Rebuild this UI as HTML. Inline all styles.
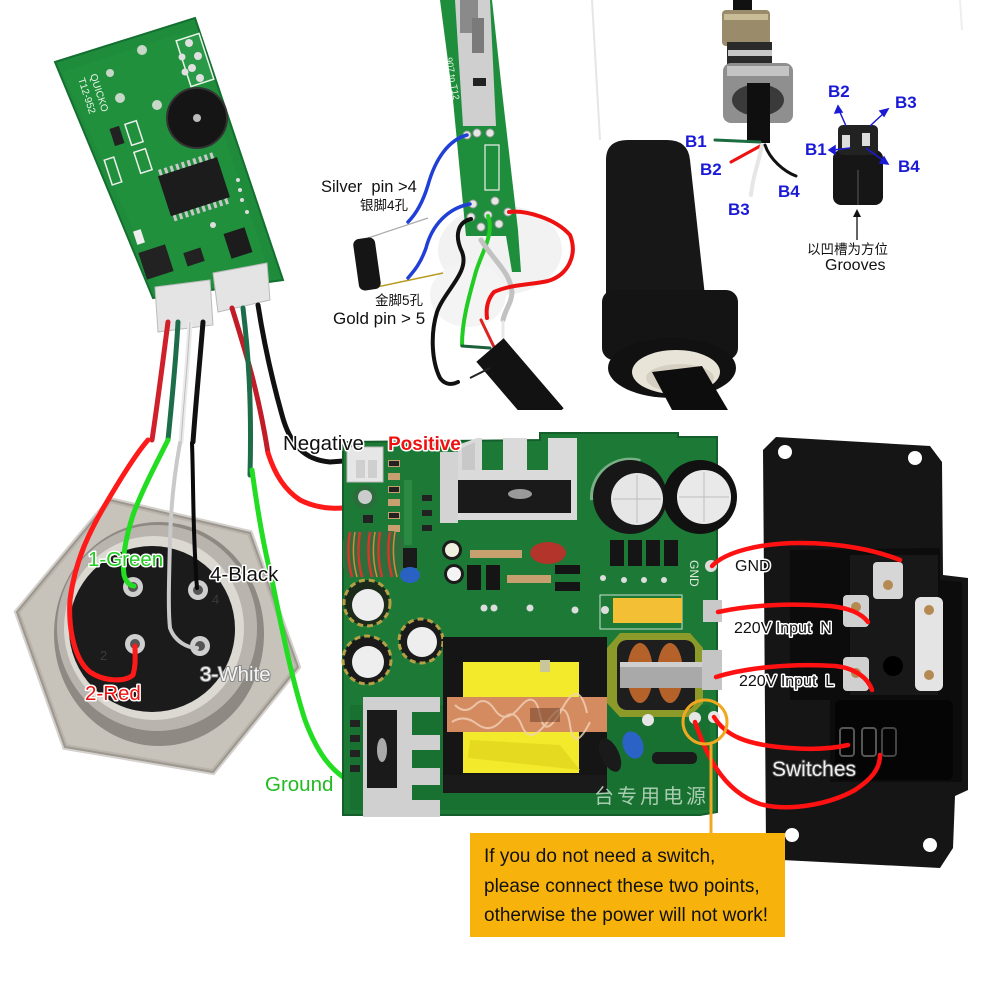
<!DOCTYPE html>
<html><head><meta charset="utf-8">
<style>
html,body{margin:0;padding:0;background:#fff;}
svg{display:block;}
text{font-family:"Liberation Sans","Noto Sans CJK SC",sans-serif;}
.ow{paint-order:stroke;stroke:#fff;stroke-width:3px;stroke-linejoin:round;}
</style></head><body>
<svg width="1000" height="1000" viewBox="0 0 1000 1000" xmlns="http://www.w3.org/2000/svg">
<defs>
  <clipPath id="midclip"><rect x="300" y="0" width="300" height="410"/></clipPath>
</defs>
<rect width="1000" height="1000" fill="#fff"/>

<!-- ============ TOP-LEFT PCB ============ -->
<g>
  <polygon points="55,62 195,18 283,280 153,298" fill="#1f8c3b" stroke="#137030" stroke-width="2"/>
  <polygon points="62,72 190,30 270,275 160,290" fill="#22933f" opacity="0.5"/>
  <rect x="183" y="36" width="24" height="48" fill="#2a9a48" stroke="#e8f5e8" stroke-width="1.5" transform="rotate(-18 195 60)"/>
  <circle cx="189" cy="43" r="4" fill="#e0e0e0"/><circle cx="198" cy="56" r="4" fill="#e0e0e0"/><circle cx="192" cy="68" r="4" fill="#e0e0e0"/><circle cx="200" cy="78" r="4" fill="#e0e0e0"/><circle cx="182" cy="57" r="3.5" fill="#e0e0e0"/><circle cx="185" cy="72" r="3.5" fill="#e0e0e0"/>
  <circle cx="142" cy="50" r="5" fill="#c8d8c8"/>
  <circle cx="110" cy="73" r="4" fill="#c8d8c8"/>
  <circle cx="120" cy="98" r="5" fill="#c8d8c8"/>
  <circle cx="157" cy="105" r="5" fill="#c8d8c8"/>
  <text x="0" y="0" font-size="10" fill="#e8f5e8" transform="translate(90,75) rotate(72)">QUICKO</text>
  <text x="0" y="0" font-size="10" fill="#e8f5e8" transform="translate(78,79) rotate(72)">T12-952</text>
  <circle cx="197" cy="118" r="30" fill="#151515"/>
  <circle cx="197" cy="118" r="30" fill="none" stroke="#333" stroke-width="2"/>
  <circle cx="197" cy="118" r="4" fill="#bbb"/>
  <g transform="rotate(-18 193 187)">
    <rect x="163" y="166" width="62" height="42" fill="#1c1c1c"/>
    <g fill="#c8c8c8">
      <rect x="165" y="160" width="3" height="6"/><rect x="171" y="160" width="3" height="6"/><rect x="177" y="160" width="3" height="6"/><rect x="183" y="160" width="3" height="6"/><rect x="189" y="160" width="3" height="6"/><rect x="195" y="160" width="3" height="6"/><rect x="201" y="160" width="3" height="6"/><rect x="207" y="160" width="3" height="6"/><rect x="213" y="160" width="3" height="6"/><rect x="219" y="160" width="3" height="6"/>
      <rect x="165" y="208" width="3" height="6"/><rect x="171" y="208" width="3" height="6"/><rect x="177" y="208" width="3" height="6"/><rect x="183" y="208" width="3" height="6"/><rect x="189" y="208" width="3" height="6"/><rect x="195" y="208" width="3" height="6"/><rect x="201" y="208" width="3" height="6"/><rect x="207" y="208" width="3" height="6"/><rect x="213" y="208" width="3" height="6"/><rect x="219" y="208" width="3" height="6"/>
    </g>
  </g>
  <rect x="227" y="230" width="22" height="26" fill="#1c1c1c" transform="rotate(-18 238 243)"/>
  <rect x="142" y="248" width="28" height="28" fill="#222" transform="rotate(-18 156 262)"/>
  <rect x="185" y="250" width="18" height="14" fill="#222" transform="rotate(-18 194 257)"/>
  <rect x="112" y="127" width="10" height="18" fill="#222" transform="rotate(-18 117 136)"/>
  <rect x="128" y="122" width="12" height="22" fill="none" stroke="#eee" stroke-width="1.5" transform="rotate(-18 134 133)"/>
  <rect x="137" y="150" width="12" height="22" fill="none" stroke="#eee" stroke-width="1.5" transform="rotate(-18 143 161)"/>
  <rect x="108" y="158" width="10" height="26" fill="none" stroke="#eee" stroke-width="1.5" transform="rotate(-18 113 171)"/>
  <rect x="135" y="230" width="8" height="14" fill="#eee" transform="rotate(-18 139 237)"/>
  <circle cx="213" cy="225" r="3" fill="#ddd"/>
  <circle cx="238" cy="180" r="2" fill="#ddd"/><circle cx="240" cy="190" r="2" fill="#ddd"/><circle cx="242" cy="200" r="2" fill="#ddd"/><circle cx="247" cy="212" r="2" fill="#ddd"/>
  <polygon points="155,287 210,280 213,325 158,332" fill="#e4e4e4" stroke="#bbb"/>
  <polygon points="213,273 267,263 270,300 218,312" fill="#e4e4e4" stroke="#bbb"/>
</g>

<g fill="none" stroke-linecap="round">
  <path d="M168,322 C163,360 158,400 152,440" stroke="#d0202a" stroke-width="5"/>
  <path d="M178,322 C176,360 172,400 168,440" stroke="#1d6d4a" stroke-width="5"/>
  <path d="M190,322 C188,360 184,400 181,442" stroke="#eaeaea" stroke-width="5"/>
  <path d="M190,322 C188,360 184,400 181,442" stroke="#bdbdbd" stroke-width="1"/>
  <path d="M203,322 C200,360 196,400 193,442" stroke="#111" stroke-width="5"/>
  <path d="M232,308 C245,350 258,390 268,453" stroke="#c01d28" stroke-width="5"/>
  <path d="M243,308 C248,350 252,400 250,475" stroke="#1d6d4a" stroke-width="5"/>
  <path d="M258,305 C265,350 275,390 282,415 C290,445 305,460 330,462 L357,460" stroke="#111" stroke-width="5"/>
</g>

<!-- ============ HEX CONNECTOR ============ -->
<g>
  <polygon points="110,500 250,533 298,667 213,772 65,747 17,612" fill="#c8c3ba" stroke="#8f8a82" stroke-width="2"/>
  <polygon points="110,500 250,533 298,667 213,772 65,747 17,612" fill="none" stroke="#a9a49b" stroke-width="6" opacity="0.5"/>
  <ellipse cx="159" cy="634" rx="105" ry="112" fill="#8e8a83"/>
  <ellipse cx="157" cy="628" rx="100" ry="103" fill="#b9b5ae"/>
  <ellipse cx="154" cy="628" rx="90" ry="92" fill="#dcd9d3"/>
  <circle cx="152" cy="629" r="83" fill="#1b1b1b"/>
  <g>
    <circle cx="133" cy="587" r="10" fill="#cfcfcf"/><circle cx="133" cy="587" r="5" fill="#555"/>
    <circle cx="198" cy="590" r="10" fill="#cfcfcf"/><circle cx="198" cy="590" r="5" fill="#555"/>
    <circle cx="135" cy="644" r="10" fill="#cfcfcf"/><circle cx="135" cy="644" r="5" fill="#555"/>
    <circle cx="200" cy="646" r="10" fill="#cfcfcf"/><circle cx="200" cy="646" r="5" fill="#555"/>
  </g>
  <text x="100" y="660" font-size="13" fill="#3a3a3a">2</text>
  <text x="212" y="604" font-size="13" fill="#3a3a3a">4</text>
</g>

<g fill="none" stroke-linecap="round" stroke-linejoin="round">
  <path d="M148,440 C135,455 120,480 108,500 C90,530 75,560 70,600 C68,630 75,660 90,672 C105,682 125,682 133,675 C136,665 135,655 135,646" stroke="#ff1a1a" stroke-width="5"/>
  <path d="M168,440 C158,460 142,490 133,515 C125,540 122,560 124,575 C126,582 130,586 134,586" stroke="#22dd22" stroke-width="5"/>
  <path d="M180,443 C175,470 171,500 170,540 C169,580 168,610 170,628 C175,642 188,648 197,648" stroke="#c9c9c9" stroke-width="4"/>
  <path d="M192,443 C193,470 193,500 194,530 C195,560 196,575 197,588" stroke="#0a0a0a" stroke-width="4"/>
  <path d="M252,470 C256,500 262,540 272,580 C282,630 292,680 305,720 C318,755 332,770 346,779" stroke="#22dd22" stroke-width="5"/>
  <path d="M268,453 C275,475 285,490 300,500 C320,510 350,512 365,500 C376,490 378,470 378,457" stroke="#ff1a1a" stroke-width="5"/>
</g>

<!-- ============ TOP MIDDLE PHOTO ============ -->
<g clip-path="url(#midclip)">
  <ellipse cx="500" cy="250" rx="62" ry="45" fill="#f2f2f2"/>
  <ellipse cx="468" cy="295" rx="38" ry="32" fill="#f4f4f4"/>
  <polygon points="440,0 492,0 503,100 518,230 521,272 512,272 506,236 466,236 453,100" fill="#1f8e3c"/>
  <polygon points="455,0 490,0 496,126 463,126" fill="#cfcfcf"/>
  <rect x="460" y="0" width="18" height="33" fill="#8a8a8a"/>
  <rect x="472" y="18" width="12" height="35" fill="#7a7a7a"/>
  <rect x="473" y="78" width="13" height="8" fill="#222"/>
  <text x="0" y="0" font-size="9" fill="#e9f5e9" transform="translate(446,58) rotate(80)">907 to T12</text>
  <rect x="485" y="145" width="14" height="45" fill="none" stroke="#eee" stroke-width="1.2"/>
  <g fill="#e6e6e6" stroke="#9a9a9a" stroke-width="1">
    <circle cx="467" cy="135" r="4"/><circle cx="477" cy="133" r="4"/><circle cx="490" cy="133" r="4"/>
    <circle cx="473" cy="204" r="4"/><circle cx="495" cy="201" r="4"/><circle cx="508" cy="212" r="4"/>
    <circle cx="471" cy="217" r="4"/><circle cx="488" cy="215" r="4"/><circle cx="481" cy="227" r="4"/><circle cx="499" cy="224" r="4"/>
  </g>
  <path d="M368,238 L428,218" stroke="#aaa" stroke-width="1.2"/>
  <path d="M372,288 L443,273" stroke="#b89a20" stroke-width="1.5"/>
  <rect x="356" y="238" width="22" height="52" rx="6" fill="#151515" transform="rotate(-8 367 264)"/>
  <g fill="none" stroke-linecap="round">
    <path d="M467,135 C448,140 435,160 428,185 C422,205 415,215 408,222" stroke="#1f3fd6" stroke-width="3.5"/>
    <path d="M470,204 C448,208 432,225 426,248 C420,265 413,272 408,278" stroke="#1f3fd6" stroke-width="3.5"/>
    <path d="M471,219 C458,222 454,235 462,252 C470,272 445,290 437,312 C430,335 432,362 440,378 C445,385 452,385 458,382" stroke="#111" stroke-width="4"/>
    <path d="M488,216 C495,235 480,255 475,275 C468,300 462,322 462,345" stroke="#22cc22" stroke-width="4"/>
    <path d="M481,240 C495,262 510,272 512,292 C512,302 505,310 503,320" stroke="#c2c2c2" stroke-width="5"/>
    <path d="M509,212 C525,210 555,218 570,235 C578,255 568,275 548,281 C530,285 512,284 494,292 C487,300 486,310 487,318" stroke="#ee1111" stroke-width="4"/>
    <path d="M462,346 L490,348" stroke="#1d5f3a" stroke-width="3"/>
    <path d="M481,320 L494,347" stroke="#dd2222" stroke-width="3"/>
    <path d="M503,322 L503,345" stroke="#e8e8e8" stroke-width="3"/>
  </g>
  <path d="M490,350 L550,420" stroke="#121212" stroke-width="36" stroke-linecap="butt"/>
  <path d="M470,378 L490,368" stroke="#222" stroke-width="2"/>
</g>
<text x="321" y="192" font-size="16.5" fill="#111">Silver&#160; pin &gt;4</text>
<text x="360" y="210" font-size="13.5" fill="#111">银脚4孔</text>
<text x="375" y="305" font-size="13.5" fill="#111">金脚5孔</text>
<text x="333" y="324" font-size="17" fill="#111">Gold pin &gt; 5</text>

<!-- ============ TOP RIGHT PHOTO ============ -->
<g>
  <line x1="592" y1="0" x2="600" y2="140" stroke="#e6e6e6" stroke-width="2"/>
  <line x1="960" y1="0" x2="962" y2="30" stroke="#eee" stroke-width="2"/>
  <path d="M606,160 Q606,140 628,140 L667,140 Q688,140 690,160 L705,296 L606,296 Z" fill="#171717"/>
  <rect x="602" y="290" width="136" height="70" rx="12" fill="#141414"/>
  <ellipse cx="672" cy="368" rx="64" ry="30" fill="#111"/>
  <ellipse cx="676" cy="372" rx="44" ry="22" fill="#e9e4d8"/>
  <ellipse cx="680" cy="378" rx="34" ry="14" fill="#d6d0c2"/>
  <polygon points="652,372 702,366 728,410 672,410" fill="#0d0d0d"/>
  <rect x="733" y="0" width="19" height="14" fill="#111"/>
  <rect x="722" y="10" width="48" height="36" rx="4" fill="#9a8c6a"/>
  <rect x="724" y="14" width="44" height="6" fill="#c9bd98"/>
  <rect x="727" y="42" width="45" height="24" fill="#2a2a2a"/>
  <rect x="728" y="50" width="44" height="6" fill="#c8c8c8"/>
  <rect x="723" y="63" width="70" height="60" rx="8" fill="#8f8f8f"/>
  <rect x="727" y="66" width="62" height="10" fill="#c4c4c4"/>
  <ellipse cx="758" cy="100" rx="26" ry="16" fill="#3a3a3a"/>
  <rect x="747" y="83" width="23" height="60" fill="#0f0f0f"/>
  <g fill="none" stroke-linecap="round">
    <path d="M715,140 L760,142" stroke="#1d6b40" stroke-width="3"/>
    <path d="M731,162 L762,145" stroke="#ee1111" stroke-width="3"/>
    <path d="M762,145 C758,165 752,180 751,195" stroke="#e6e6e6" stroke-width="4"/>
    <path d="M765,145 C770,160 785,172 796,176" stroke="#111" stroke-width="3"/>
  </g>
  <rect x="833" y="150" width="50" height="55" rx="8" fill="#161616"/>
  <rect x="838" y="125" width="40" height="30" rx="5" fill="#222"/>
  <rect x="842" y="135" width="8" height="13" fill="#ddd"/>
  <rect x="862" y="133" width="8" height="13" fill="#ddd"/>
  <line x1="858" y1="170" x2="858" y2="205" stroke="#444" stroke-width="1.5"/>
  <g stroke="#1a1ad6" stroke-width="1.5" fill="#1a1ad6">
    <line x1="846" y1="126" x2="839" y2="110"/><polygon points="838,106 835,113 842,112"/>
    <line x1="870" y1="126" x2="885" y2="112"/><polygon points="888,109 880,111 884,116"/>
    <line x1="850" y1="148" x2="833" y2="150"/><polygon points="829,150 835,146 835,154"/>
    <line x1="866" y1="148" x2="884" y2="161"/><polygon points="888,164 880,163 884,157"/>
  </g>
  <line x1="857" y1="240" x2="857" y2="214" stroke="#111" stroke-width="1.3"/>
  <polygon points="857,209 853,217 861,217" fill="#111"/>
  <g font-size="17" font-weight="bold" fill="#1a1ad6">
    <text x="685" y="147">B1</text>
    <text x="700" y="175">B2</text>
    <text x="728" y="215">B3</text>
    <text x="778" y="197">B4</text>
    <text x="828" y="97">B2</text>
    <text x="895" y="108">B3</text>
    <text x="805" y="155">B1</text>
    <text x="898" y="172">B4</text>
  </g>
  <text x="807" y="254" font-size="13.5" fill="#111">以凹槽为方位</text>
  <text x="825" y="270" font-size="16" fill="#111">Grooves</text>
</g>

<!-- ============ MAIN PCB ============ -->
<g>
  <path d="M343,442 L540,440 L540,433 L678,433 L678,437 L717,437 L717,812 L700,815 L343,815 Z" fill="#1c7a36"/>
  <path d="M343,442 L540,440 L540,433 L678,433 L678,437 L717,437 L717,812 L700,815 L343,815 Z" fill="none" stroke="#135e2a" stroke-width="2"/>
  <rect x="350" y="705" width="360" height="105" fill="#166b2f" opacity="0.6"/>
  <rect x="347" y="447" width="36" height="35" fill="#e6e6e6" stroke="#bbb"/>
  <rect x="356" y="460" width="9" height="18" fill="#cfcfcf"/><rect x="368" y="460" width="9" height="18" fill="#cfcfcf"/>
  <g fill="#c8a070">
    <rect x="388" y="460" width="12" height="7"/><rect x="388" y="473" width="12" height="7"/><rect x="388" y="486" width="12" height="7"/><rect x="388" y="499" width="12" height="7"/><rect x="388" y="512" width="12" height="7"/><rect x="388" y="525" width="12" height="7"/>
  </g>
  <g fill="#222">
    <rect x="389" y="461" width="10" height="5"/><rect x="389" y="487" width="10" height="5"/><rect x="389" y="513" width="10" height="5"/>
    <rect x="422" y="495" width="10" height="6"/><rect x="422" y="510" width="10" height="6"/><rect x="422" y="525" width="10" height="6"/>
    <rect x="363" y="515" width="10" height="8"/>
  </g>
  <rect x="404" y="480" width="8" height="65" fill="#2a8a44"/>
  <circle cx="365" cy="497" r="12" fill="#2a6d3a"/><circle cx="365" cy="497" r="7" fill="#ccc"/>
  <rect x="440" y="452" width="18" height="71" fill="#d3d3d3"/>
  <polygon points="458,445 477,438 482,438 482,470 503,470 503,438 527,438 527,470 548,470 548,438 577,438 577,520 458,520" fill="#dadada"/>
  <polygon points="462,448 475,442 475,470 462,470" fill="#c8c8c8"/>
  <rect x="458" y="480" width="113" height="33" fill="#1a1a1a"/>
  <ellipse cx="520" cy="494" rx="12" ry="5" fill="#9a9a9a"/>
  <path d="M593,500 A37,37 0 0 1 640,462" fill="none" stroke="#b7d4bc" stroke-width="6" opacity="0.6"/>
  <circle cx="630" cy="497" r="37" fill="#171717"/>
  <circle cx="637" cy="499" r="26" fill="#e6e6e6"/>
  <circle cx="700" cy="497" r="37" fill="#111"/>
  <circle cx="704" cy="497" r="27" fill="#e9e9e9"/>
  <path d="M637,475 L637,523 M613,499 L661,499" stroke="#bdbdbd" stroke-width="1"/>
  <path d="M704,472 L704,522 M679,497 L729,497" stroke="#bdbdbd" stroke-width="1"/>
  <rect x="343" y="531" width="60" height="46" rx="12" fill="#2f6e3c"/>
  <g stroke="#d13a2a" stroke-width="2.5" fill="none">
    <path d="M350,532 Q346,555 352,577"/><path d="M360,532 Q356,555 362,577"/><path d="M370,532 Q366,555 372,577"/><path d="M380,532 Q376,555 382,577"/><path d="M390,532 Q386,555 392,577"/>
  </g>
  <g stroke="#d8893a" stroke-width="1.5" fill="none">
    <path d="M355,532 Q351,555 357,577"/><path d="M375,532 Q371,555 377,577"/><path d="M395,532 Q391,555 397,577"/>
  </g>
  <rect x="403" y="548" width="14" height="20" fill="#1a1a1a"/>
  <ellipse cx="410" cy="575" rx="10" ry="8" fill="#2a62c4"/>
  <circle cx="452" cy="550" r="10" fill="#1c1c1c"/><circle cx="452" cy="550" r="7" fill="#f0f0e0"/>
  <circle cx="454" cy="574" r="10" fill="#1c1c1c"/><circle cx="454" cy="574" r="7" fill="#f4f4f4"/>
  <circle cx="367" cy="603" r="23" fill="#1b2a1b"/><circle cx="367" cy="603" r="23" fill="none" stroke="#b5a045" stroke-width="3" stroke-dasharray="6 4"/><circle cx="368" cy="605" r="16" fill="#eee"/>
  <circle cx="421" cy="641" r="22" fill="#1a1a1a"/><circle cx="421" cy="641" r="22" fill="none" stroke="#b5a045" stroke-width="3" stroke-dasharray="6 4"/><circle cx="422" cy="642" r="15" fill="#eee"/>
  <circle cx="367" cy="660" r="24" fill="#1a1a1a"/><circle cx="367" cy="660" r="24" fill="none" stroke="#b5a045" stroke-width="3" stroke-dasharray="6 4"/><circle cx="368" cy="662" r="16" fill="#eee"/>
  <ellipse cx="548" cy="553" rx="18" ry="11" fill="#b2342a"/>
  <rect x="467" y="565" width="14" height="25" fill="#151515"/>
  <rect x="486" y="565" width="14" height="25" fill="#151515"/>
  <g fill="#c8a070"><rect x="470" y="550" width="52" height="8"/><rect x="507" y="575" width="44" height="8"/></g>
  <rect x="555" y="565" width="25" height="9" fill="#151515"/><rect x="555" y="582" width="25" height="9" fill="#151515"/>
  <rect x="610" y="540" width="14" height="26" fill="#151515"/><rect x="628" y="540" width="14" height="26" fill="#151515"/><rect x="646" y="540" width="14" height="26" fill="#151515"/><rect x="664" y="540" width="14" height="26" fill="#151515"/>
  <circle cx="603" cy="578" r="3" fill="#ddd"/><circle cx="624" cy="580" r="3" fill="#ddd"/><circle cx="644" cy="580" r="3" fill="#ddd"/><circle cx="664" cy="580" r="3" fill="#ddd"/><circle cx="484" cy="608" r="3.5" fill="#ddd"/><circle cx="494" cy="608" r="3.5" fill="#ddd"/><circle cx="530" cy="608" r="3.5" fill="#ddd"/><circle cx="575" cy="610" r="3.5" fill="#ddd"/>
  <rect x="600" y="595" width="82" height="34" fill="none" stroke="#cde0cf" stroke-width="1"/>
  <rect x="613" y="598" width="69" height="25" fill="#f2bf35"/>
  <circle cx="605" cy="610" r="4" fill="#ddd"/>
  <rect x="443" y="637" width="164" height="156" fill="#151515"/>
  <rect x="463" y="662" width="116" height="111" fill="#f4ea2c"/>
  <path d="M468,758 L470,740 L560,745 L580,770 Z" fill="#e6da20"/>
  <rect x="447" y="697" width="160" height="35" fill="#d58b60"/>
  <g stroke="#f1d2b8" stroke-width="2" fill="none" opacity="0.8">
    <path d="M455,705 q10,10 20,0 t20,5 t25,-3 t20,8 t22,-6 t25,4"/>
    <path d="M452,722 q12,-8 25,2 t25,-4 t20,6 t26,-5 t22,4 t20,-3"/>
  </g>
  <rect x="530" y="708" width="30" height="14" fill="#7a4a30" opacity="0.6"/>
  <rect x="443" y="775" width="164" height="18" fill="#1a1a1a"/>
  <rect x="540" y="660" width="10" height="12" fill="#c9c79a"/>
  <path d="M620,633 L690,633 L703,648 L703,703 L690,717 L620,717 L607,703 L607,648 Z" fill="#8c9a2a"/>
  <rect x="617" y="640" width="78" height="70" rx="10" fill="#1e1e1e"/>
  <ellipse cx="640" cy="673" rx="13" ry="30" fill="#b5622a"/>
  <ellipse cx="670" cy="673" rx="13" ry="30" fill="#b5622a"/>
  <rect x="620" y="662" width="90" height="26" fill="#a9a9a9"/>
  <rect x="620" y="662" width="90" height="5" fill="#cfcfcf"/>
  <polygon points="363,697 440,697 440,712 412,712 412,735 440,735 440,750 412,750 412,768 440,768 440,785 412,785 412,800 440,800 440,817 363,817" fill="#d0d0d0"/>
  <rect x="367" y="710" width="30" height="78" fill="#1a1a1a"/>
  <ellipse cx="382" cy="750" rx="5" ry="12" fill="#aaa"/>
  <g fill="#222"><rect x="350" y="720" width="10" height="7"/><rect x="350" y="735" width="10" height="7"/><rect x="350" y="750" width="10" height="7"/><rect x="350" y="765" width="10" height="7"/></g>
  <ellipse cx="633" cy="745" rx="10" ry="14" fill="#2b62c6" transform="rotate(-20 633 745)"/>
  <ellipse cx="610" cy="755" rx="9" ry="18" fill="#1a1a1a" transform="rotate(-25 610 755)"/>
  <rect x="652" y="752" width="45" height="12" rx="5" fill="#1a1a1a"/>
  <circle cx="648" cy="720" r="6" fill="#e6e6e6"/>
  <circle cx="711" cy="566" r="6" fill="#dcdcdc"/>
  <rect x="703" y="600" width="19" height="22" fill="#c9c9c9"/>
  <rect x="702" y="650" width="20" height="40" fill="#c5c5c5"/>
  <circle cx="695" cy="718" r="6" fill="#e6e6e6"/>
  <circle cx="714" cy="717" r="6" fill="#e6e6e6"/>
  <text x="0" y="0" font-size="12" fill="#dfe9df" transform="translate(690,560) rotate(90)">GND</text>
  <text x="594" y="803" font-size="20" letter-spacing="3" fill="#a9cdb0">台专用电源</text>
</g>

<!-- ============ SOCKET PANEL ============ -->
<g>
  <polygon points="776,437 930,446 942,462 943,575 968,578 968,790 955,796 953,848 940,868 782,860 766,846 763,450" fill="#151515"/>
  <circle cx="785" cy="452" r="7" fill="#fff"/>
  <circle cx="915" cy="458" r="7" fill="#fff"/>
  <circle cx="792" cy="835" r="7" fill="#fff"/>
  <circle cx="930" cy="845" r="7" fill="#fff"/>
  <polygon points="790,550 940,548 940,580 962,582 962,782 830,782 830,700 790,700" fill="#0c0c0c"/>
  <rect x="850" y="555" width="88" height="140" fill="#181818"/>
  <rect x="835" y="700" width="118" height="80" rx="6" fill="#050505"/>
  <rect x="873" y="562" width="30" height="37" rx="4" fill="#d6d6d6"/>
  <circle cx="888" cy="585" r="5" fill="#b58a52"/>
  <rect x="843" y="595" width="26" height="32" rx="4" fill="#d0d0d0"/>
  <circle cx="856" cy="607" r="5" fill="#b58a52"/>
  <rect x="843" y="657" width="26" height="34" rx="4" fill="#d0d0d0"/>
  <circle cx="856" cy="673" r="5" fill="#b58a52"/>
  <rect x="915" y="597" width="28" height="94" rx="6" fill="#e4e4e4"/>
  <circle cx="929" cy="610" r="5" fill="#b58a52"/>
  <circle cx="929" cy="675" r="5" fill="#b58a52"/>
  <circle cx="893" cy="666" r="10" fill="#000"/>
  <rect x="840" y="728" width="14" height="28" rx="3" fill="none" stroke="#555" stroke-width="2"/>
  <rect x="862" y="728" width="14" height="28" rx="3" fill="none" stroke="#555" stroke-width="2"/>
  <rect x="882" y="728" width="14" height="28" rx="3" fill="none" stroke="#444" stroke-width="2"/>
</g>

<g fill="none" stroke="#ff1111" stroke-width="4.5" stroke-linecap="round">
  <path d="M712,566 C725,552 760,543 800,543 C840,543 875,550 900,560"/>
  <path d="M718,612 C750,605 790,603 830,606 C850,608 862,614 868,622"/>
  <path d="M716,677 C745,668 790,663 835,666 C855,668 868,678 872,690"/>
  <path d="M714,717 C725,735 745,745 790,748 C815,750 835,748 848,745"/>
  <path d="M695,722 C705,750 720,790 760,804 C790,812 830,804 855,790 C870,780 880,770 880,755"/>
</g>

<circle cx="705" cy="722" r="22" fill="none" stroke="#f0a820" stroke-width="3"/>
<line x1="711" y1="744" x2="711" y2="834" stroke="#f0a820" stroke-width="3"/>
<rect x="470" y="833" width="315" height="104" fill="#f8b20c"/>
<g font-size="19" fill="#111">
  <text x="484" y="862">If you do not need a switch,</text>
  <text x="484" y="892">please connect these two points,</text>
  <text x="484" y="921">otherwise the power will not work!</text>
</g>

<!-- ============ LABELS ============ -->
<text x="283" y="450" font-size="20.5" class="ow" fill="#111">Negative</text>
<text x="388" y="450" font-size="19" font-weight="bold" class="ow" fill="#ee1111">Positive</text>
<g font-size="20.5">
  <text x="88" y="566" class="ow" fill="#22cc22">1-Green</text>
  <text x="210" y="581" class="ow" fill="#111">4-Black</text>
  <text x="85" y="700" class="ow" fill="#ee1111">2-Red</text>
  <text x="200" y="681" fill="#f4f4f4" style="paint-order:stroke;stroke:#888;stroke-width:2px;stroke-linejoin:round">3-White</text>
  <text x="265" y="791" class="ow" fill="#22bb22">Ground</text>
</g>
<g font-size="16">
  <text x="735" y="571" class="ow" fill="#111">GND</text>
  <text x="734" y="633" class="ow" fill="#111">220V Input&#160; N</text>
  <text x="739" y="686" class="ow" fill="#111">220V Input&#160; L</text>
</g>
<text x="772" y="776" font-size="21" fill="#eeeeee" style="paint-order:stroke;stroke:#444;stroke-width:2px;stroke-linejoin:round">Switches</text>
</svg>
</body></html>
